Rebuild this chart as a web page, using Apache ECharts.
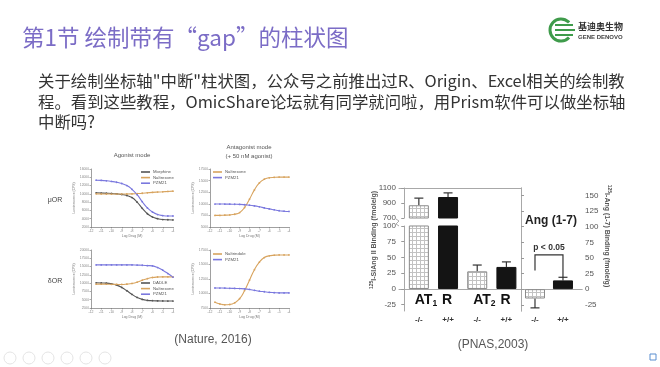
<!DOCTYPE html>
<html><head><meta charset="utf-8">
<script src="https://cdn.jsdelivr.net/npm/echarts@6/dist/echarts.min.js"></script>
<style>
html,body{margin:0;padding:0;background:#fff;}
#wrap{position:relative;width:660px;height:367px;overflow:hidden;background:#fff;}
#chart{position:absolute;left:0;top:0;width:660px;height:367px;}
.t{position:absolute;white-space:nowrap;font-family:"Noto Sans CJK SC","Noto Sans",sans-serif;}
</style></head><body>
<div id="wrap">
<div id="chart"></div>
<div class="t" style="left:22px;top:21px;font-size:22.5px;line-height:30px;color:#7b6cc6;">第1节 绘制带有“gap”的柱状图</div>
<div class="t" style="left:38px;top:70px;font-size:16.4px;line-height:20.5px;color:#333;">关于绘制坐标轴"中断"柱状图，公众号之前推出过R、Origin、Excel相关的绘制教<br>程。看到这些教程，OmicShare论坛就有同学就问啦，用Prism软件可以做坐标轴<br>中断吗?</div>
</div>
<script>
// ---------- data: left figure (dose-response curves) ----------
const logDose = [-11.5,-11,-10.5,-10,-9.5,-9,-8.5,-8,-7.5,-7,-6.5,-6,-5.5,-5,-4.5,-4];
const doseTicks = [-12,-4,1];
// top-left (muOR agonist)
const tlMorphine   = [10250,10200,10150,10100,10000,9850,9600,9100,8000,6500,5200,4400,4000,3800,3750,3700];
const tlNaltrexone = [10000,9980,9960,9950,9950,9950,9960,10000,10070,10150,10250,10350,10430,10500,10580,10650];
const tlPZM21      = [13300,13250,13150,13000,12800,12500,12000,11100,9800,8100,6600,5600,5000,4750,4650,4650];
// top-right (muOR antagonist)
const trNaltrexone = [7500,7500,7550,7600,7750,8100,9200,11000,13000,14500,15300,15600,15700,15750,15750,15750];
const trPZM21      = [9950,9950,9940,9920,9900,9870,9800,9700,9550,9350,9120,8900,8700,8500,8400,8350];
// bottom-left (deltaOR agonist)
const blDADLE      = [10100,10050,10000,9800,9400,8700,7700,6600,5700,5100,4800,4700,4650,4620,4600,4600];
const blNaltrexone = [9700,9700,9680,9650,9620,9600,9700,9900,10300,10900,11350,11700,11850,11900,11900,11900];
const blPZM21      = [15500,15500,15500,15500,15500,15500,15500,15500,15450,15400,15300,15200,14700,13900,12900,11800];
// bottom-right (deltaOR antagonist)
const brNaltrindole= [8500,8200,8050,8100,8400,9100,10500,12300,14100,15400,16200,16500,16600,16650,16650,16650];
const brPZM21      = [10950,10940,10930,10900,10880,10850,10800,10700,10550,10400,10300,10200,10150,10100,10100,10100];

// ---------- data: right figure (broken-axis bar chart) ----------
const barCats   = ['-/-','+/+','-/-','+/+'];
const groupNames= ['1','2'];              // AT1 R, AT2 R
const atMeans   = [870, 980, 28, 35];
const atErr     = [95, 55, 10, 8];
const angCats   = ['-/-','+/+'];
const angMeans  = [-15, 14];
const angErr    = [15, 5];
const upperTicks = [700, 1100, 200];
const lowerTicks = [-25, 0, 25, 50, 75, 100];
const rightTicks = [-25, 0, 25, 50, 75, 100, 125, 150];
const sigBracket = [0.5, 1.5, 30, 18, 55]; // left x, right x, left base, right base, top

// ---------- styles ----------
const C_DARK = '#555555', C_ORANGE = '#d8a45f', C_BLUE = '#7a78de';
const pc = document.createElement('canvas'); pc.width = 4; pc.height = 4;
const g = pc.getContext('2d'); g.fillStyle = '#fff'; g.fillRect(0,0,4,4);
g.fillStyle = '#c2c2c2'; g.fillRect(0,0,4,1); g.fillRect(0,0,1,4);
const pattern = {image: pc, repeat: 'repeat'};
const FONT = '"Liberation Sans", Arial, sans-serif';
const plain = (v) => String(v);

function smallX(gi){
  return {type:'value', gridIndex:gi, min:doseTicks[0], max:doseTicks[1], interval:doseTicks[2],
    name:'Log Drug (M)', nameLocation:'middle', nameGap:7, nameTextStyle:{fontSize:3.5,color:'#777'},
    axisLine:{lineStyle:{color:'#777',width:0.7}}, axisTick:{length:1.5,lineStyle:{color:'#777',width:0.6}},
    axisLabel:{fontSize:3.5,color:'#888',margin:2,formatter:plain}, splitLine:{show:false}};
}
function smallY(gi,min,max,interval){
  return {type:'value', gridIndex:gi, min:min, max:max, interval:interval,
    name:'Luminescence (CPS)', nameLocation:'middle', nameGap:13, nameRotate:90, nameTextStyle:{fontSize:3.3,color:'#777'},
    axisLine:{show:true,lineStyle:{color:'#777',width:0.7}}, axisTick:{show:true,length:1.5,lineStyle:{color:'#777',width:0.6}},
    axisLabel:{fontSize:3.3,color:'#888',margin:2,formatter:plain}, splitLine:{show:false}};
}
function curve(name, gi, arr, color){
  return {type:'line', name:name, xAxisIndex:gi, yAxisIndex:gi, smooth:true, showSymbol:true, symbol:'circle', symbolSize:1.8,
    color:color, lineStyle:{width:1.1,color:color}, itemStyle:{color:color}, silent:true, animation:false,
    data: logDose.map((x,i)=>[x, arr[i]])};
}
function smallLegend(names,left,top){
  return {data:names, left:left, top:top, orient:'vertical', icon:'rect', itemWidth:9, itemHeight:1.6, itemGap:1.6,
    padding:0, selectedMode:false, textStyle:{fontSize:4.3,color:'#555',padding:[0,0,0,-2]}};
}
const frameLine = {show:true, lineStyle:{color:'#a8a8a8', width:1}};
const tickLbl = {fontSize:8, color:'#555', margin:3, fontFamily:FONT, formatter:plain};

function errRender(params, api){
  const x = api.value(0), m = api.value(1), e = api.value(2);
  const end = m >= 0 ? m + e : m - e;
  const p0 = api.coord([x, m]), p1 = api.coord([x, end]);
  const w = 4.5;
  return {type:'group', children:[
    {type:'line', shape:{x1:p0[0],y1:p0[1],x2:p1[0],y2:p1[1]}, style:{stroke:'#333',lineWidth:1.2}},
    {type:'line', shape:{x1:p1[0]-w,y1:p1[1],x2:p1[0]+w,y2:p1[1]}, style:{stroke:'#333',lineWidth:1.2}}
  ]};
}
function barItem(i, v){
  const ko = i % 2 === 0;
  return {value:[i+0.5, v], itemStyle:{color: ko ? pattern : '#141414', borderColor: ko ? '#8a8a8a' : '#141414', borderWidth:1}};
}

const upperIdx = atMeans.map((v,i)=>i).filter(i=>atMeans[i] > lowerTicks[lowerTicks.length-1]);
const lowerIdx = atMeans.map((v,i)=>i).filter(i=>atMeans[i] <= lowerTicks[lowerTicks.length-1]);

const option = {
  animation:false,
  textStyle:{fontFamily:FONT},
  grid:[
    {left:91, top:169, width:82, height:58},
    {left:210, top:169, width:79, height:58},
    {left:91, top:250, width:82, height:58},
    {left:210, top:250, width:79, height:58},
    {left:399, top:188, width:122, height:30},
    {left:399, top:226, width:122, height:85},
    {left:521, top:188, width:61, height:123}
  ],
  legend:[
    smallLegend(['Morphine','Naltrexone','PZM21'],141,170),
    smallLegend(['Naltrexone','PZM21'],213,170),
    smallLegend(['DADLE','Naltrexone','PZM21'],141,281),
    smallLegend(['Naltrindole','PZM21'],213,252)
  ],
  xAxis:[
    smallX(0), smallX(1), smallX(2), smallX(3),
    {type:'value', gridIndex:4, min:-0.18, max:4, position:'top', axisLine:frameLine, axisTick:{show:false}, axisLabel:{show:false}, splitLine:{show:false}},
    {type:'value', gridIndex:5, min:-0.18, max:4, position:'bottom', axisLine:frameLine, axisTick:{show:false}, splitLine:{show:false},
      axisLabel:{customValues:barCats.map((c,i)=>i+0.5), formatter:(v)=>barCats[Math.round(v-0.5)], fontSize:8, color:'#333', margin:5, fontWeight:'bold'}},
    {type:'value', gridIndex:6, min:0, max:2.18, position:'bottom', axisLine:frameLine, axisTick:{show:false}, splitLine:{show:false},
      axisLabel:{customValues:angCats.map((c,i)=>i+0.5), formatter:(v)=>angCats[Math.round(v-0.5)], fontSize:8, color:'#333', margin:5, fontWeight:'bold'}},
    {type:'value', gridIndex:6, min:0, max:2.18, position:'top', axisLine:frameLine, axisTick:{show:false}, axisLabel:{show:false}, splitLine:{show:false}}
  ],
  yAxis:[
    smallY(0,2000,16000,2000), smallY(1,5000,17500,2500), smallY(2,2500,20000,2500), smallY(3,7500,17500,2500),
    {type:'value', gridIndex:4, min:upperTicks[0], max:upperTicks[1], interval:upperTicks[2], axisLine:frameLine,
      axisTick:{show:true,length:3,lineStyle:{color:'#999'}}, axisLabel:tickLbl, splitLine:{show:false}},
    {type:'value', gridIndex:5, min:-35, max:lowerTicks[lowerTicks.length-1], axisLine:frameLine,
      axisTick:{show:true,length:3,lineStyle:{color:'#999'},customValues:lowerTicks}, axisLabel:Object.assign({customValues:lowerTicks},tickLbl), splitLine:{show:false}},
    {type:'value', gridIndex:6, position:'right', min:-35, max:162, axisLine:frameLine,
      axisTick:{show:true,length:3,lineStyle:{color:'#999'},customValues:rightTicks}, axisLabel:Object.assign({customValues:rightTicks},tickLbl), splitLine:{show:false}},
    {type:'value', gridIndex:6, position:'left', min:-35, max:162, axisLine:frameLine, axisTick:{show:false}, axisLabel:{show:false}, splitLine:{show:false}}
  ],
  series:[
    curve('Morphine',0,tlMorphine,C_DARK), curve('Naltrexone',0,tlNaltrexone,C_ORANGE), curve('PZM21',0,tlPZM21,C_BLUE),
    curve('Naltrexone',1,trNaltrexone,C_ORANGE), curve('PZM21',1,trPZM21,C_BLUE),
    curve('DADLE',2,blDADLE,C_DARK), curve('Naltrexone',2,blNaltrexone,C_ORANGE), curve('PZM21',2,blPZM21,C_BLUE),
    curve('Naltrindole',3,brNaltrindole,C_ORANGE), curve('PZM21',3,brPZM21,C_BLUE),
    {type:'bar', name:'upper', xAxisIndex:4, yAxisIndex:4, barWidth:20, clip:true, silent:true,
      data: upperIdx.map(i=>barItem(i, atMeans[i]))},
    {type:'bar', name:'lower', xAxisIndex:5, yAxisIndex:5, barWidth:20, clip:true, silent:true,
      data: atMeans.map((v,i)=>barItem(i, v))},
    {type:'bar', name:'ang', xAxisIndex:6, yAxisIndex:6, barWidth:20, clip:true, silent:true,
      data: angMeans.map((v,i)=>barItem(i, v))},
    {type:'custom', name:'errU', xAxisIndex:4, yAxisIndex:4, renderItem:errRender, silent:true,
      data: upperIdx.map(i=>[i+0.5, atMeans[i], atErr[i]])},
    {type:'custom', name:'errL', xAxisIndex:5, yAxisIndex:5, renderItem:errRender, silent:true,
      data: lowerIdx.map(i=>[i+0.5, atMeans[i], atErr[i]])},
    {type:'custom', name:'errA', xAxisIndex:6, yAxisIndex:6, renderItem:errRender, silent:true,
      data: angMeans.map((v,i)=>[i+0.5, v, angErr[i]])},
    {type:'custom', name:'groups', xAxisIndex:5, yAxisIndex:5, silent:true,
      data: groupNames.map((n,k)=>[2*k+1, -17, n]),
      renderItem:(params, api)=>{
        const p = api.coord([api.value(0), api.value(1)]);
        return {type:'text', style:{x:p[0], y:p[1], text:'{a|AT}{s|'+groupNames[params.dataIndex]+'}{a| R}', align:'center', verticalAlign:'middle',
          rich:{a:{fontSize:14,fontWeight:'bold',fill:'#111',fontFamily:FONT}, s:{fontSize:8.5,fontWeight:'bold',fill:'#111',fontFamily:FONT,padding:[7,1,0,0]}}}};
      }},
    {type:'custom', name:'sig', xAxisIndex:6, yAxisIndex:6, silent:true,
      data:[sigBracket],
      renderItem:(params, api)=>{
        const l = api.value(0), r = api.value(1), lb = api.value(2), rb = api.value(3), top = api.value(4);
        const a = api.coord([l, lb]), b = api.coord([l, top]), c = api.coord([r, top]), d = api.coord([r, rb]);
        return {type:'group', children:[
          {type:'polyline', shape:{points:[a,b,c,d]}, style:{stroke:'#333', lineWidth:1.2, fill:null}},
          {type:'text', style:{x:(b[0]+c[0])/2, y:b[1]-7, text:'p < 0.05', align:'center', verticalAlign:'middle', fontSize:8.5, fontWeight:'bold', fill:'#333', fontFamily:FONT}}
        ]};
      }}
  ],
  graphic:[
    {type:'text', style:{x:132, y:155, text:'Agonist mode', fontSize:6, fill:'#555', align:'center', verticalAlign:'middle'}},
    {type:'text', style:{x:249, y:147, text:'Antagonist mode', fontSize:6, fill:'#555', align:'center', verticalAlign:'middle'}},
    {type:'text', style:{x:249, y:156, text:'(+ 50 nM agonist)', fontSize:6, fill:'#555', align:'center', verticalAlign:'middle'}},
    {type:'text', style:{x:55, y:200, text:'μOR', fontSize:7, fill:'#444', align:'center', verticalAlign:'middle'}},
    {type:'text', style:{x:55, y:281, text:'δOR', fontSize:7, fill:'#444', align:'center', verticalAlign:'middle'}},
    {type:'text', style:{x:213, y:340, text:'(Nature, 2016)', fontSize:12, fill:'#555', align:'center', verticalAlign:'middle'}},
    {type:'text', style:{x:493, y:345, text:'(PNAS,2003)', fontSize:12, fill:'#555', align:'center', verticalAlign:'middle'}},
    {type:'text', x:374, y:240, rotation:Math.PI/2, style:{x:0, y:0, text:'{s|125}{a|I-SIAng II Binding (fmole/g)}', align:'center', verticalAlign:'middle',
      rich:{a:{fontSize:7,fontWeight:'bold',fill:'#555'}, s:{fontSize:5,fontWeight:'bold',fill:'#555',padding:[0,0,4,0]}}}},
    {type:'text', x:607, y:236, rotation:-Math.PI/2, style:{x:0, y:0, text:'{s|125}{a|I-Ang (1-7) Binding (fmole/g)}', align:'center', verticalAlign:'middle',
      rich:{a:{fontSize:7,fontWeight:'bold',fill:'#555'}, s:{fontSize:5,fontWeight:'bold',fill:'#555',padding:[0,0,4,0]}}}},
    {type:'text', style:{x:551, y:221, text:'Ang (1-7)', fontSize:12, fontWeight:'bold', fill:'#222', align:'center', verticalAlign:'middle'}},
    // axis break mark
    {type:'polyline', shape:{points:[[396,219],[399,221],[396,224],[399,226]]}, style:{stroke:'#aaa', lineWidth:1, fill:null}},
    // logo
    {type:'arc', shape:{cx:561, cy:30, r:11, startAngle:0.75, endAngle:2*Math.PI-0.75}, style:{stroke:'#3f9b4b', lineWidth:3, fill:null}},
    {type:'line', shape:{x1:555, y1:25, x2:573, y2:25}, style:{stroke:'#3f9b4b', lineWidth:2}},
    {type:'line', shape:{x1:555, y1:30, x2:575, y2:30}, style:{stroke:'#3f9b4b', lineWidth:2}},
    {type:'line', shape:{x1:555, y1:35, x2:573, y2:35}, style:{stroke:'#3f9b4b', lineWidth:2}},
    {type:'text', style:{x:578, y:27, text:'基迪奥生物', fontSize:9, fontWeight:'bold', fill:'#333', fontFamily:'"Noto Sans CJK SC"', verticalAlign:'middle'}},
    {type:'text', style:{x:578, y:37, text:'GENE DENOVO', fontSize:6, fontWeight:'bold', fill:'#444', verticalAlign:'middle'}},
    // bottom toolbar
    ...[0,1,2,3,4,5].map(i=>({type:'circle', shape:{cx:10+i*19, cy:358, r:6}, style:{stroke:'#e4e4e4', lineWidth:1, fill:null}})),
    {type:'rect', shape:{x:650, y:354, width:6, height:6}, style:{stroke:'#5b8fd0', lineWidth:1, fill:null}}
  ]
};
const chart = echarts.init(document.getElementById('chart'));
chart.setOption(option);
</script>
</body></html>
